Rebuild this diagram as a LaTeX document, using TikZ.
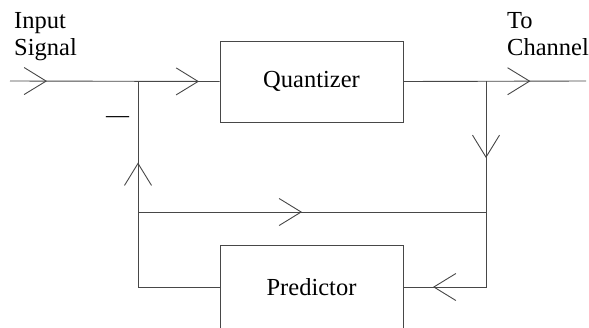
\documentclass[tikz,border=0pt]{standalone}
\usepackage{fontspec}
\setmainfont{Liberation Serif}
\usetikzlibrary{arrows.meta,decorations.markings}

\tikzset{
  wire/.style={draw=black!72, line width=0.9pt},
  vee/.tip={Straight Barb[length=22pt,width=27pt,line width=0.9pt]},
  block/.style={draw=black!72, line width=0.9pt, minimum width=183pt,
    inner sep=0pt, font=\fontsize{24.5}{26}\selectfont},
  lbl/.style={inner sep=0pt, align=left, font=\fontsize{24.5}{27}\selectfont},
  flow/.style={postaction={decorate},
    decoration={markings, mark=at position #1 with {\arrow{vee}}}},
}

\begin{document}
\begin{tikzpicture}[x=1pt, y=-1pt]
  \useasboundingbox (0,0) rectangle (589,327);
  \clip (0,0) rectangle (589,327);

  % blocks
  \node[block, minimum height=81pt] (qz) at (311.5,81.5) {Quantizer};
  \node[block, minimum height=84pt] (pred) at (311.5,287) {Predictor};

  % labels
  \node[lbl, anchor=north west] (inlbl) at (14,12) {Input\\Signal};
  \node[lbl, anchor=north west] (outlbl) at (507,12) {To\\Channel};
  \node[inner sep=0pt, font=\fontsize{23}{23}\selectfont] (minus) at (117.5,120) {—};

  % junctions and free ends
  \coordinate (in) at (10,81);
  \coordinate (out) at (586,81);
  \coordinate (j1) at (138,81);
  \coordinate (j2) at (486,81);
  \coordinate (ml) at (138,212);
  \coordinate (mr) at (486,212);
  \coordinate (cl) at (138,287);
  \coordinate (cr) at (486,287);

  % forward path
  \draw[wire, postaction={decorate}, decoration={markings,
      mark=at position 37pt with {\arrow{vee}},
      mark=at position 189pt with {\arrow{vee}}}]
    (in) -- (qz.west);
  \draw[wire, flow=127pt] (qz.east) -- (out);

  % prediction fed back to the summing point
  \draw[wire, flow=206pt] (pred.west) -- (cl) -- (j1);

  % reconstruction path
  \draw[wire, flow=164pt] (ml) -- (mr);
  \draw[wire, postaction={decorate}, decoration={markings,
      mark=at position 77pt with {\arrow{vee}},
      mark=at position 259pt with {\arrow{vee}}}]
    (j2) -- (cr) -- (pred.east);
\end{tikzpicture}
\end{document}
